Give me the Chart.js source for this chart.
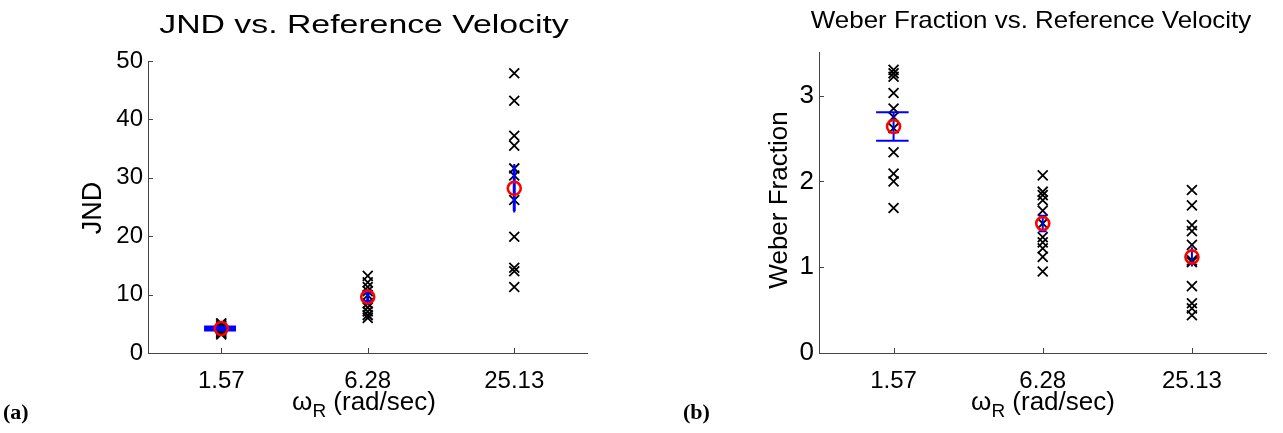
<!DOCTYPE html>
<html>
<head>
<meta charset="utf-8">
<script src="https://cdn.jsdelivr.net/npm/chart.js@4.4.1/dist/chart.umd.min.js"></script>
<style>
  html, body { margin: 0; padding: 0; background: #fff; }
  #wrap { position: relative; width: 1283px; height: 433px; }
  .panel { position: absolute; top: 0; height: 433px; }
  #pa { left: 0; width: 640px; }
  #pb { left: 640px; width: 643px; }
</style>
</head>
<body>
<div id="wrap">
  <div class="panel" id="pa"><canvas id="jndChart"></canvas></div>
  <div class="panel" id="pb"><canvas id="weberChart"></canvas></div>
</div>
<script>
// reference velocities (rad/sec), log-spaced
const velocities = [1.57, 6.28, 25.13];
const velocityLabels = ["1.57", "6.28", "25.13"];

// JND per subject at each velocity
const jndTrials = [
    [5.1, 4.9, 4.6, 4.4, 4.2, 4.0, 3.8, 3.6, 3.4, 3.2],
    [13.2, 12.1, 11.3, 10.6, 9.9, 8.5, 7.8, 7.1, 6.5, 6.0],
    [47.9, 43.2, 37.2, 35.5, 31.6, 30.4, 26.2, 19.9, 14.6, 14.0, 11.3]
];
const jndMean = [4.2, 9.6, 28.2];
const jndErr = [0.25, 0.8, 3.9];
const jndTicks = [0, 10, 20, 30, 40, 50];

// Weber fraction per subject at each velocity
const weberTrials = [
    [3.30, 3.26, 3.22, 3.03, 2.85, 2.75, 2.62, 2.34, 2.09, 2.00, 1.69],
    [2.07, 1.88, 1.84, 1.78, 1.66, 1.51, 1.35, 1.29, 1.22, 1.12, 0.95],
    [1.90, 1.72, 1.49, 1.42, 1.26, 1.06, 1.08, 0.78, 0.58, 0.52, 0.44]
];
const weberMean = [2.64, 1.51, 1.12];
const weberErr = [0.165, 0.09, 0.1];
const weberTicks = [0, 1, 2, 3];

const FONT = "'Liberation Sans', Arial, Helvetica, sans-serif";
const toPoints = (trials) => trials.flatMap((vals, i) => vals.map(v => ({ x: velocities[i], y: v })));
const meanPoints = (means) => means.map((v, i) => ({ x: velocities[i], y: v }));

// matlab-style errorbars: cap half width is 1% of the x data range
const errorBars = {
    id: "errorBars",
    beforeDatasetDraw(chart, args, opts) {
        if (args.index !== 0) return;
        const { ctx, scales: { x, y } } = chart;
        const tee = (Math.max(...velocities) - Math.min(...velocities)) / 100;
        ctx.save();
        ctx.strokeStyle = "#0000ff";
        ctx.lineWidth = opts.width;
        opts.mean.forEach((m, i) => {
            const px = x.getPixelForValue(velocities[i]);
            const xl = x.getPixelForValue(velocities[i] - tee);
            const xr = x.getPixelForValue(velocities[i] + tee);
            const yt = y.getPixelForValue(m + opts.err[i]);
            const yb = y.getPixelForValue(m - opts.err[i]);
            ctx.beginPath();
            ctx.moveTo(px, yt); ctx.lineTo(px, yb);
            ctx.moveTo(xl, yt); ctx.lineTo(xr, yt);
            ctx.moveTo(xl, yb); ctx.lineTo(xr, yb);
            ctx.stroke();
        });
        ctx.restore();
    }
};

// inward tick marks, titles, subscripted axis label, panel tag
const decor = {
    id: "decor",
    afterDraw(chart, _args, o) {
        const { ctx, scales: { x, y }, chartArea: a } = chart;
        ctx.save();
        ctx.strokeStyle = "#444";
        ctx.lineWidth = 1;
        ctx.beginPath();
        y.ticks.forEach(t => {
            const py = Math.round(y.getPixelForValue(t.value)) + 0.5;
            ctx.moveTo(a.left, py); ctx.lineTo(a.left + 5, py);
        });
        x.ticks.forEach(t => {
            const px = Math.round(x.getPixelForValue(t.value)) + 0.5;
            ctx.moveTo(px, a.bottom); ctx.lineTo(px, a.bottom - 5);
        });
        ctx.stroke();

        ctx.fillStyle = "#000";
        ctx.textBaseline = "alphabetic";

        // title (stretched horizontally like the source figure)
        ctx.save();
        ctx.font = `${o.titleSize}px ${FONT}`;
        ctx.textAlign = "center";
        ctx.translate(o.titleX, o.titleY);
        ctx.scale(o.titleStretch, 1);
        ctx.fillText(o.title, 0, 0);
        ctx.restore();

        // y axis title
        ctx.save();
        ctx.font = `${o.yTitleSize}px ${FONT}`;
        ctx.textAlign = "center";
        ctx.textBaseline = "middle";
        ctx.translate(o.yTitleX, o.yTitleY);
        ctx.rotate(-Math.PI / 2);
        ctx.fillText(o.yTitle, 0, 0);
        ctx.restore();

        // x axis title: omega with subscript R
        const big = `${o.xTitleSize}px ${FONT}`;
        const small = `${Math.round(o.xTitleSize * 0.72)}px ${FONT}`;
        ctx.font = big;
        const w1 = ctx.measureText("\u03c9").width;
        const w3 = ctx.measureText(" (rad/sec)").width;
        ctx.font = small;
        const w2 = ctx.measureText("R").width;
        let sx = o.xTitleX - (w1 + w2 + w3) / 2;
        ctx.textAlign = "left";
        ctx.font = big;
        ctx.fillText("\u03c9", sx, o.xTitleY);
        sx += w1;
        ctx.font = small;
        ctx.fillText("R", sx, o.xTitleY + 7);
        sx += w2;
        ctx.font = big;
        ctx.fillText(" (rad/sec)", sx, o.xTitleY);

        ctx.font = `bold 22px 'Liberation Serif', 'Times New Roman', serif`;
        ctx.fillText(o.tag, o.tagX, o.tagY);
        ctx.restore();
    }
};

Chart.register(errorBars, decor);

const makeConfig = (p) => ({
    type: "scatter",
    data: {
        datasets: [
            {
                label: "mean",
                data: meanPoints(p.mean),
                pointStyle: "circle",
                pointRadius: 6.5,
                pointHoverRadius: 6.5,
                borderColor: "#ff0000",
                backgroundColor: "rgba(0,0,0,0)",
                borderWidth: 2.6,
            },
            {
                label: "subjects",
                data: toPoints(p.trials),
                pointStyle: "crossRot",
                pointRadius: 7,
                pointHoverRadius: 7,
                borderColor: "#000",
                borderWidth: 1.8,
            }
        ]
    },
    options: {
        responsive: false,
        animation: false,
        events: [],
        layout: { padding: { top: p.top, right: p.right, left: 0, bottom: 0 } },
        plugins: {
            legend: { display: false },
            tooltip: { enabled: false },
            errorBars: { mean: p.mean, err: p.err, width: p.ebWidth },
            decor: p.decor
        },
        scales: {
            x: {
                type: "logarithmic",
                min: velocities[0] / 2,
                max: velocities[2] * 2,
                afterBuildTicks: s => { s.ticks = velocities.map(v => ({ value: v })); },
                afterFit: s => { s.height = 80; },
                ticks: {
                    autoSkip: false, maxRotation: 0, padding: 14,
                    color: "#000",
                    font: { family: FONT, size: 24 },
                    callback: v => velocityLabels[velocities.indexOf(v)] ?? ""
                },
                grid: { display: false, drawTicks: false },
                border: { display: true, color: "#444", width: 1 }
            },
            y: {
                min: p.yMin, max: p.yMax,
                afterBuildTicks: s => { s.ticks = p.yTicks.map(v => ({ value: v })); },
                afterFit: s => { s.width = p.axisLeft; },
                ticks: {
                    padding: 5,
                    color: "#000",
                    font: { family: FONT, size: p.yTickSize }
                },
                grid: { display: false, drawTicks: false },
                border: { display: true, color: "#444", width: 1 }
            }
        }
    }
});

const sizeCanvas = (id, w, h) => {
    const c = document.getElementById(id);
    c.width = w; c.height = h;
    c.style.width = w + "px"; c.style.height = h + "px";
    return c;
};

new Chart(sizeCanvas("jndChart", 640, 433), makeConfig({
    trials: jndTrials, mean: jndMean, err: jndErr,
    yMin: 0, yMax: 50, yTicks: jndTicks, yTickSize: 24,
    top: 61, right: 52.5, axisLeft: 148, ebWidth: 3,
    decor: {
        title: "JND vs. Reference Velocity", titleSize: 26, titleStretch: 1.3, titleX: 364, titleY: 33,
        yTitle: "JND", yTitleSize: 27, yTitleX: 94, yTitleY: 208,
        xTitleSize: 26, xTitleX: 364, xTitleY: 410,
        tag: "(a)", tagX: 3, tagY: 419
    }
}));

new Chart(sizeCanvas("weberChart", 643, 433), makeConfig({
    trials: weberTrials, mean: weberMean, err: weberErr,
    yMin: 0, yMax: 3.5, yTicks: weberTicks, yTickSize: 26,
    top: 52.7, right: 16.5, axisLeft: 179, ebWidth: 2,
    decor: {
        title: "Weber Fraction vs. Reference Velocity", titleSize: 24, titleStretch: 1.08, titleX: 391, titleY: 28,
        yTitle: "Weber Fraction", yTitleSize: 26, yTitleX: 140, yTitleY: 200,
        xTitleSize: 26, xTitleX: 403, xTitleY: 410,
        tag: "(b)", tagX: 43, tagY: 419
    }
}));
</script>
</body>
</html>
